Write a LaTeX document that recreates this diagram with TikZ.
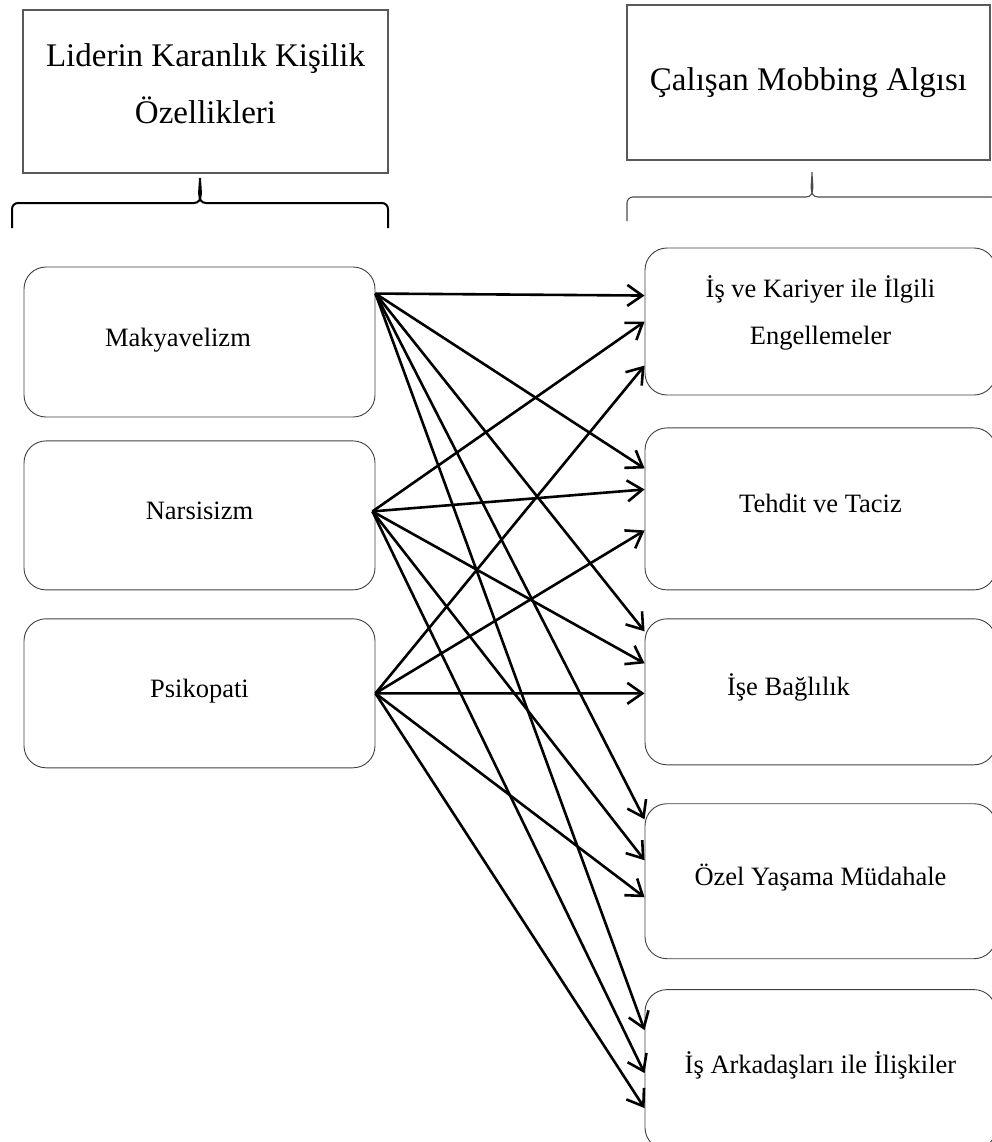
\documentclass[tikz,border=0pt]{standalone}
\usepackage{fontspec}
\setmainfont{Liberation Serif}
\usetikzlibrary{arrows.meta,positioning}

\begin{document}
\begin{tikzpicture}[
    x=1pt, y=-1pt,
    head/.style={draw=black!65, line width=1.3pt, align=center, font=\fontsize{33}{57}\selectfont},
    trait/.style={draw=black!75, line width=0.9pt, rounded corners=22pt, minimum width=351pt, align=center, font=\fontsize{26.5}{47}\selectfont},
    one/.style={text height=18pt, text depth=10pt},
    arrow/.style={-{Straight Barb[length=15pt,width=21pt]}, line width=2.6pt},
    brace/.style={line width=2pt}
]
\useasboundingbox (0,0) rectangle (992,1142);

% Headings
\node[head, minimum width=365pt, minimum height=163pt, text depth=16pt] (lider) at (205.5,91.5) {Liderin Karanlık Kişilik\\Özellikleri};
\node[head, minimum width=363pt, minimum height=155pt] (mobbing) at (808.5,82.5) {Çalışan Mobbing Algısı};

% Braces
\draw[brace] (12,228) -- (12,209) to[out=90,in=180] (18,203) -- (194,203) to[out=0,in=-90] (200,178)
    to[out=-90,in=180] (206,203) -- (382,203) to[out=0,in=90] (388,209) -- (388,228);
\draw[black!70, line width=1.1pt] (627,221) -- (627,203) to[out=90,in=180] (633,197) -- (806,197) to[out=0,in=-90] (812,172)
    to[out=-90,in=180] (818,197) -- (991,197) to[out=0,in=90] (997,203) -- (997,221);

% Dark traits
\node[trait, one, minimum height=150pt] (trait1) at (199.5,342) {Makyavelizm\hspace{43pt}};
\node[trait, one, minimum height=149pt, below=23pt of trait1] (trait2) {Narsisizm};
\node[trait, one, minimum height=149pt, below=28pt of trait2] (trait3) {Psikopati};

% Mobbing dimensions
\node[trait, minimum height=147pt, text depth=22pt] (mob1) at (820.5,321.5) {İş ve Kariyer ile İlgili\\Engellemeler};
\node[trait, one, minimum height=162pt, below=32pt of mob1] (mob2) {Tehdit ve Taciz};
\node[trait, one, minimum height=146pt, below=28pt of mob2] (mob3) {İşe Bağlılık\hspace{64pt}};
\node[trait, one, minimum height=155pt, below=38pt of mob3] (mob4) {Özel Yaşama Müdahale};
\node[trait, one, minimum height=160pt, below=30pt of mob4] (mob5) {İş Arkadaşları ile İlişkiler};

% Arrows
\coordinate (out1) at ([yshift=-27pt]trait1.north east);
\coordinate (out2) at ([xshift=-3pt,yshift=4pt]trait2.east);
\coordinate (out3) at (trait3.east);
\foreach \m/\a/\b/\c in {1/48/74/118, 2/41/62/103, 3/13/45/75, 4/16/57/94, 5/41/84/119} {
    \draw[arrow] (out1) -- ([yshift=-\a pt]mob\m.north west);
    \draw[arrow] (out2) -- ([yshift=-\b pt]mob\m.north west);
    \draw[arrow] (out3) -- ([yshift=-\c pt]mob\m.north west);
}

\end{tikzpicture}
\end{document}
